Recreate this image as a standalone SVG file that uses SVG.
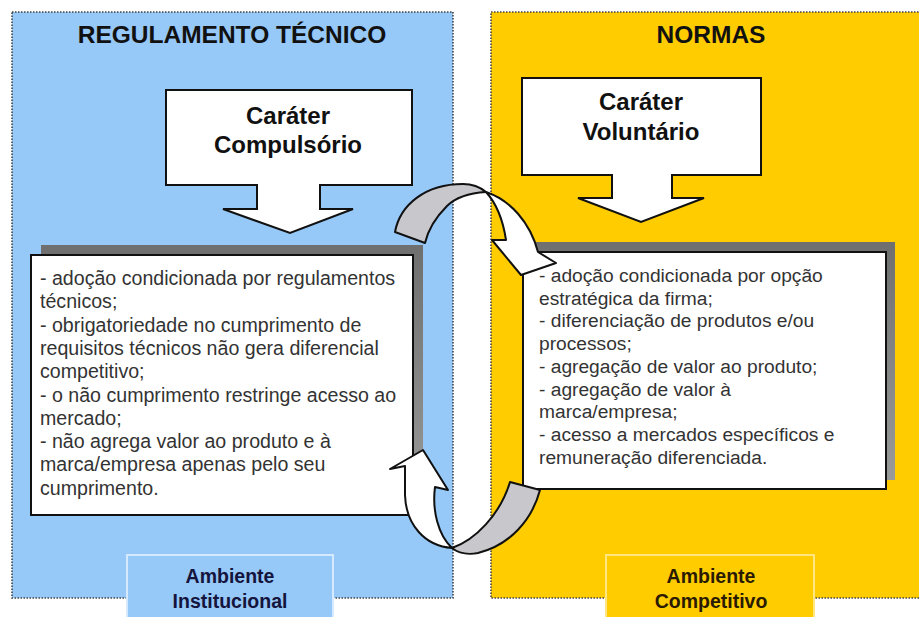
<svg xmlns="http://www.w3.org/2000/svg" width="919" height="617" viewBox="0 0 919 617">
<defs>
<linearGradient id="shadowGrad" x1="0" y1="0" x2="0" y2="1">
<stop offset="0" stop-color="#6f6f6f"/>
<stop offset="1" stop-color="#9a9a9a"/>
</linearGradient>
<style>
.panel{stroke:#444;stroke-width:1.6;stroke-dasharray:1.5 1.5}
.title{font-family:"Liberation Sans",Arial,sans-serif;font-weight:bold;font-size:24.5px;fill:#111;text-anchor:middle}
.callout{fill:#fff;stroke:#111;stroke-width:2;stroke-linejoin:miter}
.ctext{font-family:"Liberation Sans",Arial,sans-serif;font-weight:bold;font-size:24px;fill:#111;text-anchor:middle}
.shadow{fill:url(#shadowGrad)}
.box{fill:#fff;stroke:#111;stroke-width:2}
.body{font-family:"Liberation Sans",Arial,sans-serif;fill:#333}
.label{font-family:"Liberation Sans",Arial,sans-serif;font-weight:bold;font-size:19.5px;text-anchor:middle}
.rib{stroke:#111;stroke-width:2;stroke-linejoin:round}
</style>
</defs>
<rect width="919" height="617" fill="#fff"/>

<g id="panel-regulamento">
<rect class="panel" x="12" y="12" width="441" height="586" fill="#96c8f8"/>
<text class="title" x="232" y="43">REGULAMENTO TÉCNICO</text>
</g>
<g id="panel-normas">
<rect class="panel" x="491" y="12" width="440" height="586" fill="#ffcc00"/>
<text class="title" x="711" y="43">NORMAS</text>
</g>

<g id="label-institucional">
<rect x="127" y="555" width="206" height="70" fill="#96c8f8" stroke="#d6eaff" stroke-width="2"/>
<text class="label" x="230" y="583" fill="#14143c">Ambiente</text>
<text class="label" x="230" y="608" fill="#14143c">Institucional</text>
</g>
<g id="label-competitivo">
<rect x="606" y="555" width="208" height="70" fill="#ffcc00" stroke="#ffe680" stroke-width="2"/>
<text class="label" x="711" y="583" fill="#2a1a00">Ambiente</text>
<text class="label" x="711" y="608" fill="#2a1a00">Competitivo</text>
</g>

<g id="carater-compulsorio">
<path class="callout" d="M166,90 H412 V185 H320 V209 H353 L290,233 L223,209 H257 V185 H166 Z"/>
<text class="ctext" x="288" y="124">Caráter</text>
<text class="ctext" x="288" y="153">Compulsório</text>
</g>
<g id="carater-voluntario">
<path class="callout" d="M522,78 H761 V175 H672 V198 H704 L641,222 L578,198 H612 V175 H522 Z"/>
<text class="ctext" x="641" y="110">Caráter</text>
<text class="ctext" x="641" y="140">Voluntário</text>
</g>

<g id="box-regulamento">
<rect class="shadow" x="41" y="245" width="382" height="260"/>
<rect class="box" x="31" y="255" width="382" height="260"/>
<text class="body" x="40" font-size="19.6">
<tspan x="40" y="285">- adoção condicionada por regulamentos</tspan>
<tspan x="40" y="308.3">técnicos;</tspan>
<tspan x="40" y="331.6">- obrigatoriedade no cumprimento de</tspan>
<tspan x="40" y="354.9">requisitos técnicos não gera diferencial</tspan>
<tspan x="40" y="378.2">competitivo;</tspan>
<tspan x="40" y="401.5">- o não cumprimento restringe acesso ao</tspan>
<tspan x="40" y="424.8">mercado;</tspan>
<tspan x="40" y="448.1">- não agrega valor ao produto e à</tspan>
<tspan x="40" y="471.4">marca/empresa apenas pelo seu</tspan>
<tspan x="40" y="494.7">cumprimento.</tspan>
</text>
</g>
<g id="box-normas">
<rect class="shadow" x="533" y="242" width="362" height="238"/>
<rect class="box" x="523" y="252" width="363" height="237"/>
<text class="body" x="539" font-size="19.2">
<tspan x="539" y="282">- adoção condicionada por opção</tspan>
<tspan x="539" y="304.7">estratégica da firma;</tspan>
<tspan x="539" y="327.4">- diferenciação de produtos e/ou</tspan>
<tspan x="539" y="350.1">processos;</tspan>
<tspan x="539" y="372.8">- agregação de valor ao produto;</tspan>
<tspan x="539" y="395.5">- agregação de valor à</tspan>
<tspan x="539" y="418.2">marca/empresa;</tspan>
<tspan x="539" y="440.9">- acesso a mercados específicos e</tspan>
<tspan x="539" y="463.6">remuneração diferenciada.</tspan>
</text>
</g>

<g id="connectors">
<g id="arrow-top">
<path class="rib" fill="#c8c8cc" d="M395,232 C400,205 425,184 463,184 C472,184 480,187 486,192 C470,193 455,198 447,206 C436,217 428,230 425,243 Z"/>
<path class="rib" fill="#fff" d="M486,192 C510,200 530,222 538,252 L556,263 L521,275 L492,240 L506,240 C503,220 496,203 486,192 Z"/>
</g>
<g id="arrow-bottom">
<path class="rib" fill="#c8c8cc" d="M510,482 L540,490 C532,520 510,545 478,553 C468,555 458,553 452,548 C475,540 500,515 510,482 Z"/>
<path class="rib" fill="#fff" d="M452,548 C425,546 406,525 405,495 L405,466 L390,469 L423,450 L448,490 L435,487 C432,510 438,535 452,548 Z"/>
</g>
</g>
</svg>
